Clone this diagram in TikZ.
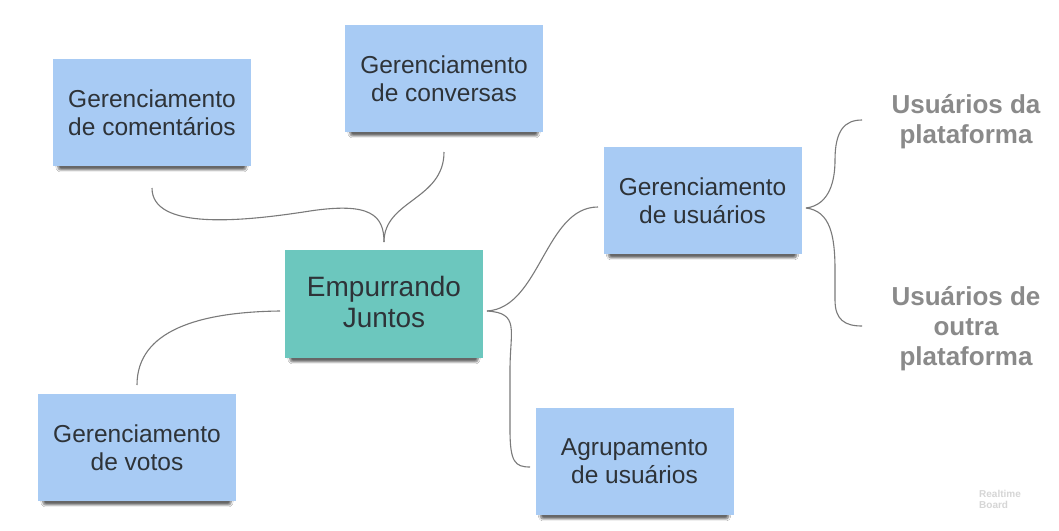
\documentclass[tikz,border=0pt]{standalone}
\usepackage{fontspec}
\setmainfont{Liberation Sans}
\usetikzlibrary{shadows.blur}
\definecolor{noteblue}{HTML}{A8CBF4}
\definecolor{noteteal}{HTML}{6CC7BE}
\definecolor{notetext}{HTML}{2E3338}
\definecolor{linegray}{HTML}{7A7A7A}
\definecolor{leafgray}{HTML}{8A8A8A}
\definecolor{logogray}{HTML}{D6D6D6}
\tikzset{
  note/.style={fill=noteblue, minimum width=198pt, minimum height=107pt, inner sep=0pt,
    align=center, text=notetext, font=\fontsize{24.5}{28}\selectfont,
    blur shadow={shadow xshift=0pt, shadow yshift=-7pt, shadow scale=0.95, shadow opacity=60, shadow blur steps=8, shadow blur extra rounding=3pt}},
  centernote/.style={note, fill=noteteal, font=\fontsize{28}{31}\selectfont},
  leaf/.style={align=center, text=leafgray, font=\bfseries\fontsize{26}{30}\selectfont, inner sep=0pt},
  conn/.style={draw=linegray, line width=1.1pt}
}
\begin{document}
\begin{tikzpicture}[x=1pt, y=-1pt]
\useasboundingbox (0,0) rectangle (1059,530);
\fill[white] (0,0) rectangle (1059,530);

\node[note] (com) at (152,112.5) {Gerenciamento\\de comentários};
\node[note] (conv) at (444,78.5) {Gerenciamento\\de conversas};
\node[centernote, minimum height=108pt] (emp) at (384,304) {\raisebox{0pt}[0pt][0pt]{}Empurrando\\Juntos\rule[-4pt]{0pt}{0pt}};
\node[note] (usr) at (702.5,200.5) {Gerenciamento\\de usuários};
\node[note] (vot) at (137,447.5) {Gerenciamento\\de votos};
\node[note] (agr) at (634.5,461.5) {Agrupamento\\de usuários};

\node[leaf] (pla) at (966,122) {Usuários da\\plataforma};
\node[leaf] (out) at (966,329) {Usuários de\\outra\\plataforma};

\node[text=logogray, font=\bfseries\fontsize{10}{11.5}\selectfont, align=left, anchor=north west, inner sep=0pt] (logo) at (979,490) {Realtime\\Board};

% top junction
\coordinate (jtop) at (384,242);
\coordinate (comend) at (152,188);
\coordinate (convend) at (444,152);
\draw[conn] (comend) .. controls (152,230) and (240,222) .. (310,211)
  .. controls (370,202) and (384,215) .. (jtop);
\draw[conn] (convend) .. controls (444,200) and (384,200) .. (jtop);

% right junction
\coordinate (jright) at (487,311);
\coordinate (usrend) at (598,207);
\coordinate (agrend) at (530,467);
\draw[conn] (jright) .. controls (540,308) and (545,207) .. (usrend);
\draw[conn] (jright) .. controls (520,313) and (510,330) .. (510,370)
  -- (510,430) .. controls (510,462) and (515,467) .. (agrend);

% left connector
\coordinate (jleft) at (280,311);
\coordinate (votend) at (137,385);
\draw[conn] (jleft) .. controls (200,312) and (137,330) .. (votend);

% brace to leaves
\coordinate (jusr) at (806,208);
\coordinate (plaend) at (862,120);
\coordinate (outend) at (862,326);
\draw[conn] (jusr) .. controls (830,205) and (835,180) .. (835,160)
  .. controls (835,130) and (845,120) .. (plaend);
\draw[conn] (jusr) .. controls (830,211) and (835,235) .. (835,270)
  -- (835,300) .. controls (835,320) and (845,326) .. (outend);
\end{tikzpicture}
\end{document}
